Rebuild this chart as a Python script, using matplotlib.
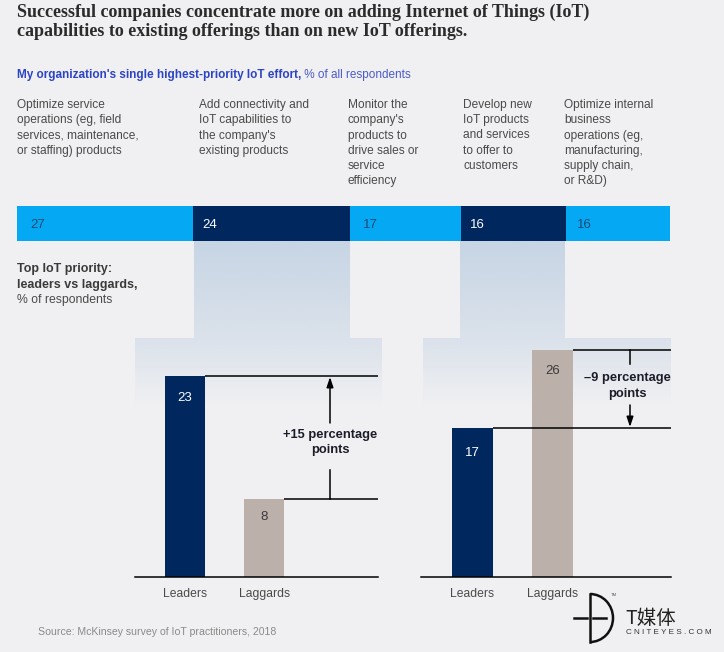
import matplotlib
matplotlib.use("Agg")
import matplotlib.pyplot as plt
from matplotlib.patches import Arc
import numpy as np

W, H = 724, 652
BG = "#f0f0f2"
NAVY = "#00285f"
BLUE = "#05a8f2"
TAN = "#bcb1aa"
TEXT = "#4a4a4a"
SANS = "Liberation Sans"

title_lines = ["Successful companies concentrate more on adding Internet of Things (IoT)",
               "capabilities to existing offerings than on new IoT offerings."]

effort_labels = ["Optimize service\noperations (eg, field\nservices, maintenance,\nor staffing) products",
                 "Add connectivity and\nIoT capabilities to\nthe company's\nexisting products",
                 "Monitor the\ncompany's\nproducts to\ndrive sales or\nservice\nefficiency",
                 "Develop new\nIoT products\nand services\nto offer to\ncustomers",
                 "Optimize internal\nbusiness\noperations (eg,\nmanufacturing,\nsupply chain,\nor R&D)"]
effort_values = [27, 24, 17, 16, 16]

groups = ["Leaders", "Laggards"]
left_values = [23, 8]
left_drawn = [23, 8.9]  # the laggard bar is drawn a bit taller than its label says
right_values = [17, 26]

plt.rcParams["font.family"] = SANS
fig = plt.figure(figsize=(W / 100, H / 100), dpi=100, facecolor=BG)


def px_axes(x0, y0, x1, y1, **kw):
    # axes from pixel box, y measured from top of the image
    return fig.add_axes([x0 / W, 1 - y1 / H, (x1 - x0) / W, (y1 - y0) / H], **kw)


# full page layer for text, gradients and annotation lines
page = px_axes(0, 0, W, H, facecolor="none")
page.axis("off")


def fade(x0, x1, y0, y1, a0, a1):
    grad = np.linspace(a0, a1, 64).reshape(-1, 1)
    rgba = np.zeros((64, 1, 4))
    rgba[..., :3] = matplotlib.colors.to_rgb("#b4c8de")
    rgba[..., 3] = grad
    page.imshow(rgba, extent=(x0, x1, y1, y0), aspect="auto", zorder=0, interpolation="bilinear")


for col, wide in [((194, 350), (135, 382)), ((460, 565), (423, 671))]:
    fade(col[0], col[1], 241, 338, 0.68, 0.36)
    fade(wide[0], wide[1], 338, 406, 0.36, 0.0)
page.set_xlim(0, W)
page.set_ylim(H, 0)

# title
for y, line in zip([12.5, 32], title_lines):
    page.text(17, y, line, family="Liberation Serif", fontweight="bold", fontsize=12.95,
              color="#2b2b2b", va="center")

# subtitle, bold part then regular part
sub = page.text(17, 75, "My organization's single highest-priority IoT effort,", fontsize=8.5,
                fontweight="bold", color="#2c44c4", va="center")
page.annotate(" % of all respondents", xy=(1, 0), xycoords=sub, va="bottom", fontsize=8.5, color="#4a5bc8")

# category captions, one line at a time so the baselines stay level
for x, label in zip([17, 199, 348, 463, 564.5], effort_labels):
    for i, line in enumerate(label.split("\n")):
        page.text(x, 108 + 15.25 * i, line, fontsize=8.6, color=TEXT, va="baseline")

# top stacked bar
top = px_axes(17, 206, 670, 241)
top.set_xlim(0, sum(effort_values))
top.set_ylim(0, 1)
top.axis("off")
left = 0
colors = [BLUE, NAVY, BLUE, NAVY, BLUE]
label_colors = ["#174a78", "white", "#174a78", "white", "#174a78"]
label_pads = [2.0, 1.4, 2.0, 1.3, 1.8]
for v, c, tc, pad in zip(effort_values, colors, label_colors, label_pads):
    top.barh(0.5, v, left=left, height=1, color=c)
    top.text(left + pad, 0.46, str(v), color=tc, fontsize=9.5, va="center")
    left += v

# side caption
page.text(17, 269, "Top IoT priority:", fontsize=9, fontweight="bold", color="#3a3a3a", va="center")
page.text(17, 285, "leaders vs laggards,", fontsize=9, fontweight="bold", color="#3a3a3a", va="center")
page.text(17, 300, "% of respondents", fontsize=8.8, color=TEXT, va="center")


def panel(box, heights, labels, width, xlim, drops):
    ax = px_axes(box[0], 340, box[1], 577, facecolor="none")
    ax.set_xlim(*xlim)
    ax.set_ylim(0, 237 / 8.74)
    ax.bar([0, 1], heights, width=width, color=[NAVY, TAN])
    for s in ["top", "left", "right"]:
        ax.spines[s].set_visible(False)
    ax.spines["bottom"].set_linewidth(1.1)
    ax.set_yticks([])
    ax.set_xticks([0, 1], groups)
    ax.tick_params(axis="x", length=0, pad=8, labelsize=8.7, labelcolor=TEXT)
    for i, (h, lab, drop) in enumerate(zip(heights, labels, drops)):
        ax.annotate(str(lab), (i, h), xytext=(0, -drop), textcoords="offset points", ha="center",
                    va="center", fontsize=9.5, color="white" if i == 0 else "#3a3a3a")
        ax.plot([i + width / 2, xlim[1]], [h, h], color="black", lw=1.1, solid_capstyle="butt")
    return ax


panel((135, 378), left_drawn, left_values, 0.503, (-0.629, 2.428), [15.5, 12.5])
panel((421, 671), right_values, right_values, 0.51, (-0.644, 2.48), [17.5, 15])

# gap arrows and their captions
ARROW = dict(arrowstyle="-|>,head_width=0.2,head_length=0.6", color="black", lw=1.1, shrinkA=0, shrinkB=0)
page.annotate("", xy=(330, 377), xytext=(330, 423), arrowprops=ARROW)
page.plot([330, 330], [470, 499], color="black", lw=1.1)
page.text(330, 442.5, "+15 percentage\npoints", fontsize=9.3, fontweight="bold", color="#1c1c28",
          ha="center", va="center", linespacing=1.4)
page.plot([630, 630], [350, 364], color="black", lw=1.1)
page.annotate("", xy=(630, 427), xytext=(630, 405), arrowprops=ARROW)
page.text(627, 386, "\u20139 percentage\npoints", fontsize=9.3, fontweight="bold", color="#1c1c28",
          ha="center", va="center", linespacing=1.4)

# source
page.text(38, 632, "Source: McKinsey survey of IoT practitioners, 2018", fontsize=7.6, color="#8a8a8a", va="center")

# watermark
page.plot([590, 590], [594, 642], color="#111111", lw=1.8)
page.add_patch(Arc((590, 618), 46, 48, theta1=-90, theta2=90, color="#111111", lw=1.8))
page.plot([574, 587], [618, 618], color="#111111", lw=1.8)
page.plot([593, 606], [618, 618], color="#111111", lw=1.8)
page.text(610.5, 594.5, "TM", fontsize=3, color="#555555", va="center")
page.text(625, 618, "T媒体", family=["Noto Sans CJK SC", "DejaVu Sans"], fontsize=14, color="#222222", va="center")
page.text(625.5, 633, "C N I T E Y E S . C O M", fontsize=5.9, color="#333333", va="center")

fig.savefig("out.png", dpi=100, facecolor=BG)
